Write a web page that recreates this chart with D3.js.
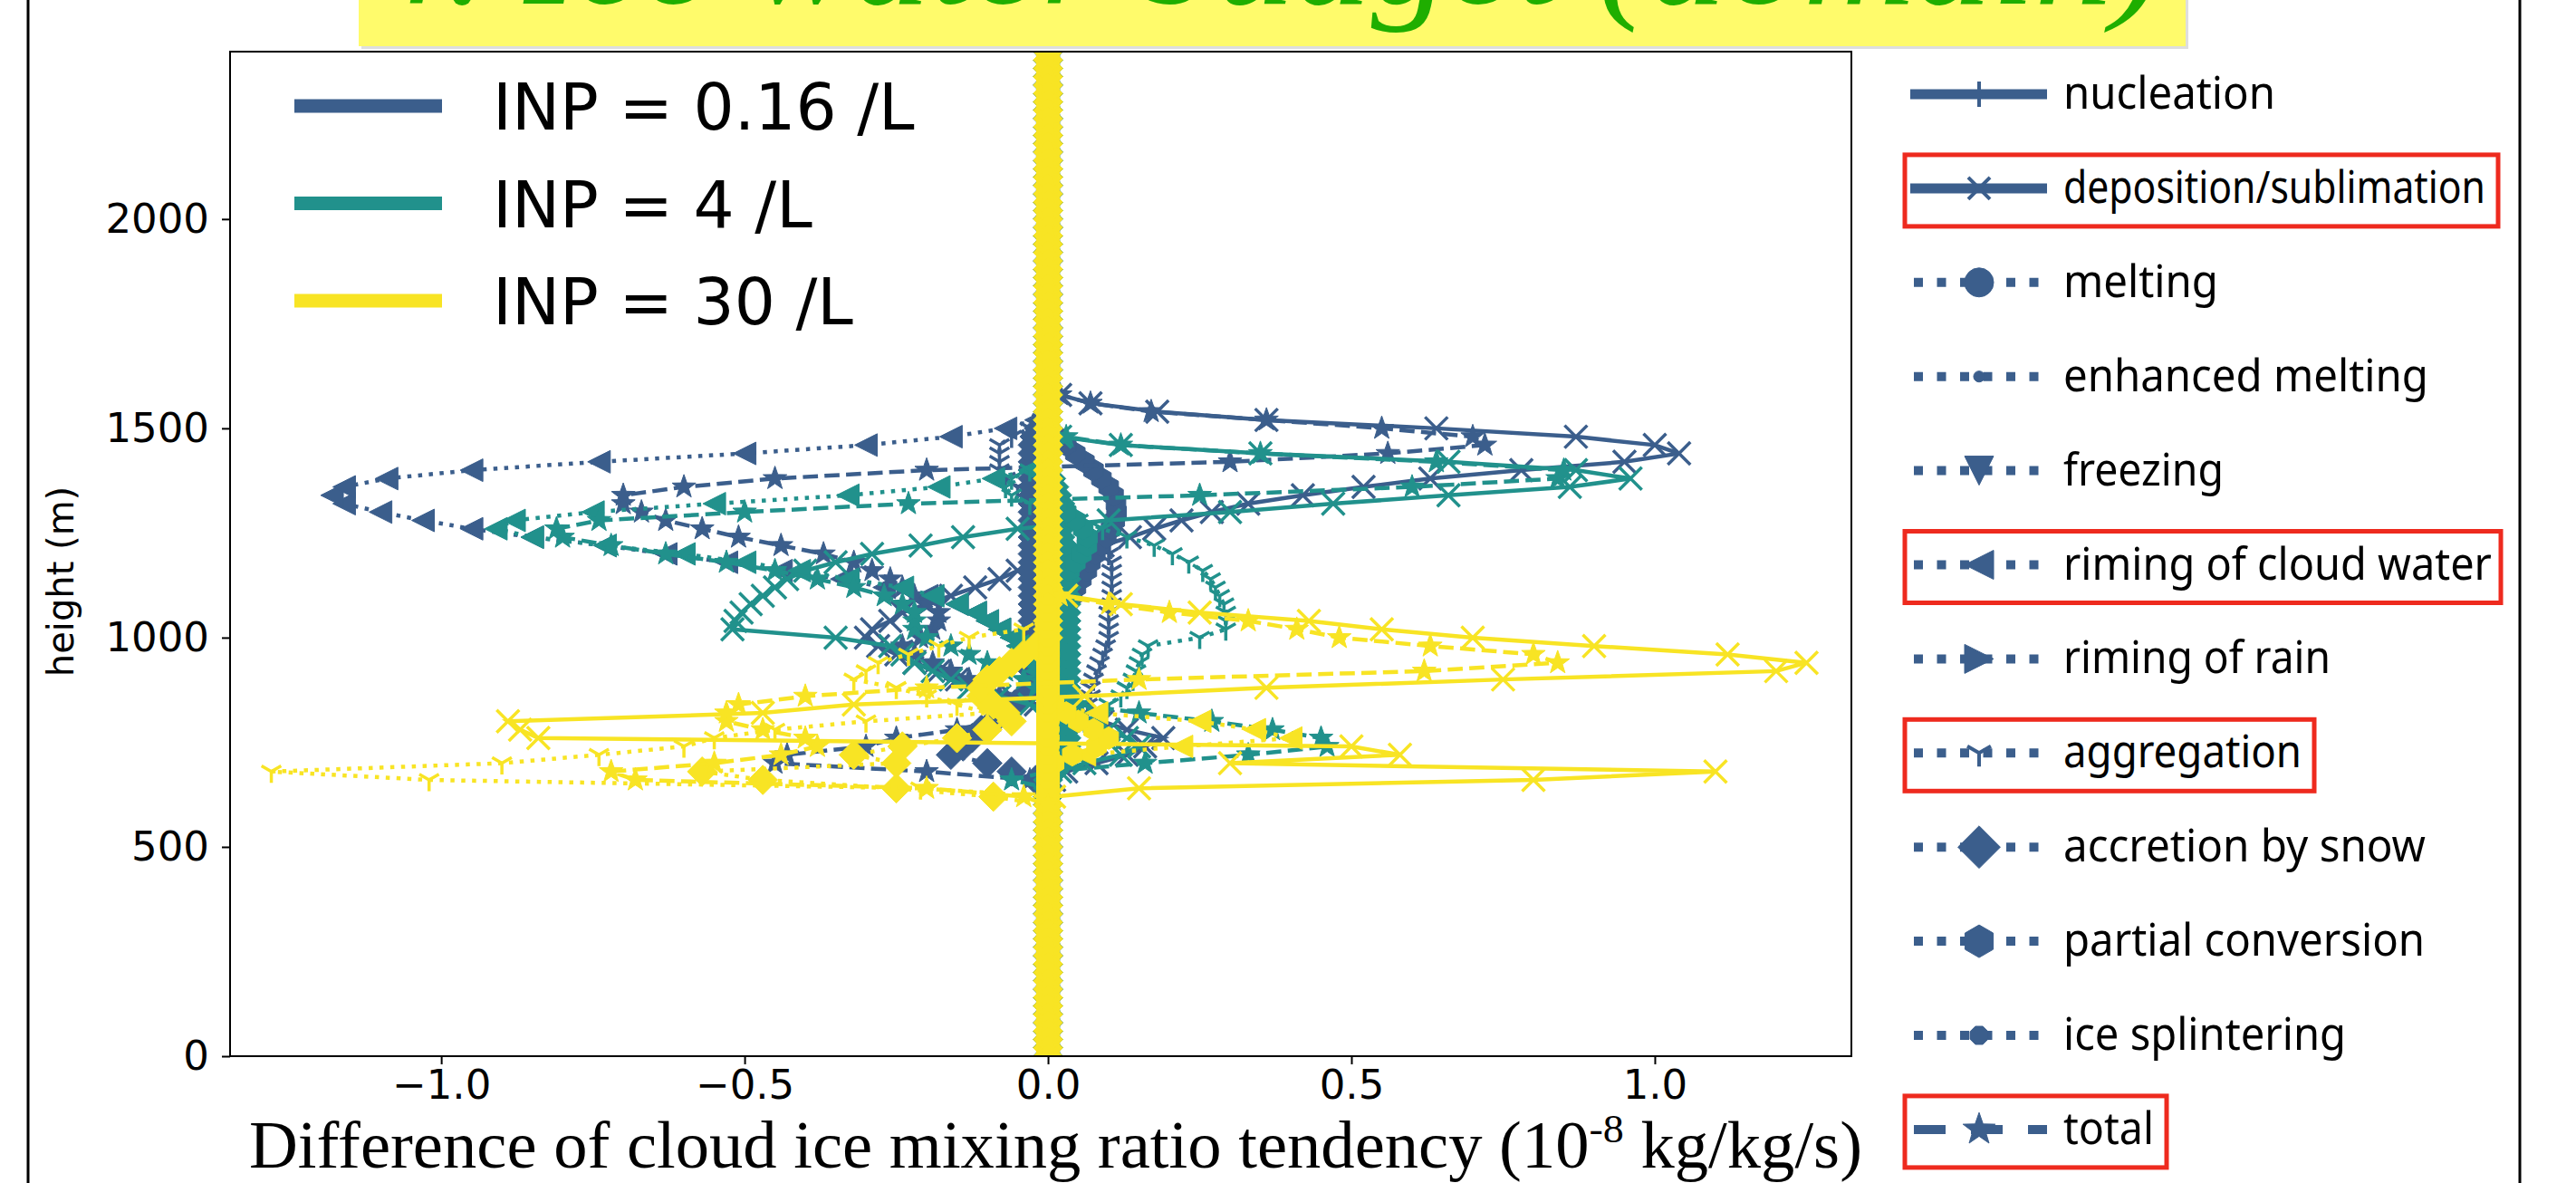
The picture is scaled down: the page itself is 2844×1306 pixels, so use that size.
<!DOCTYPE html>
<html lang="en">
<head>
<meta charset="UTF-8">
<title>Ice water budget (domain)</title>
<style>
  html, body { margin: 0; padding: 0; background: #fff; }
  svg { display: block; }
</style>
</head>
<body>
<div id="chart"></div>
<script src="https://d3js.org/d3.v7.min.js"></script>
<script>
// ---------- data ----------
const inpLabels = ["INP = 0.16 /L", "INP = 4 /L", "INP = 30 /L"];
const processNames = ["nucleation", "deposition/sublimation", "melting", "enhanced melting",
  "freezing", "riming of cloud water", "riming of rain", "aggregation",
  "accretion by snow", "partial conversion", "ice splintering", "total"];
const highlighted = ["deposition/sublimation", "riming of cloud water", "aggregation", "total"];
const xTicks = [-1.0, -0.5, 0.0, 0.5, 1.0];
const yTicks = [0, 500, 1000, 1500, 2000];

// model levels (m)
const levels = [0,20,40,60,80,100,120,140,160,180,
  200,220,240,260,280,300,320,340,360,380,
  400,420,440,460,480,500,520,540,560,580,
  600,620,640,660,680,700,720,740,760,780,
  800,820,840,860,880,900,920,940,960,980,
  1000,1020,1040,1060,1080,1100,1120,1140,1160,1180,
  1200,1220,1240,1260,1280,1300,1320,1340,1360,1380,
  1400,1420,1440,1460,1480,1500,1520,1540,1560,1580,
  1600,1620,1640,1660,1680,1700,1720,1740,1760,1780,
  1800,1820,1840,1860,1880,1900,1920,1940,1960,1980,
  2000,2020,2040,2060,2080,2100,2120,2140,2160,2180,
  2200,2220,2240,2260,2280,2300,2320,2340,2360,2380,
  2400];

// levels where the tendencies are non-zero (top -> bottom); zero elsewhere
const profileLevels = [1600,1580,1560,1540,1520,1500,1480,1460,1440,1420,
  1400,1380,1360,1340,1320,1300,1280,1260,1240,1220,
  1200,1180,1160,1140,1120,1100,1080,1060,1040,1020,
  1000,980,960,940,920,900,880,860,840,820,
  800,780,760,740,720,700,680,660,640,620,
  600];

// INP = 0.16 /L
const dep016 = [0,0.02,0.07,0.18,0.36,0.64,0.87,1.0,1.04,0.95,
  0.78,0.63,0.52,0.42,0.33,0.27,0.22,0.175,0.135,0.09,
  0.04,-0.01,-0.05,-0.08,-0.12,-0.16,-0.2,-0.24,-0.26,-0.29,
  -0.3,-0.28,-0.25,-0.22,-0.18,-0.15,-0.1,-0.06,-0.02,0.03,
  0.09,0.13,0.19,0.16,0.13,0.08,0.03,0.01,0,0,
  0];
const rim016 = [0,0,0,-0.005,-0.02,-0.07,-0.16,-0.3,-0.5,-0.74,
  -0.95,-1.09,-1.16,-1.18,-1.16,-1.1,-1.03,-0.95,-0.85,-0.73,
  -0.63,-0.53,-0.44,-0.34,-0.27,-0.2,-0.15,-0.12,-0.1,-0.08,
  -0.06,-0.05,-0.04,-0.03,-0.02,-0.02,-0.01,-0.01,0,0,
  0,0,0,0,0,0,0,0,0,0,
  0];
const agg016 = [0,0,0,0,-0.01,-0.03,-0.06,-0.08,-0.08,-0.08,
  -0.08,-0.07,-0.05,-0.03,-0.01,0.01,0.03,0.05,0.07,0.09,
  0.1,0.105,0.105,0.105,0.105,0.105,0.105,0.1,0.1,0.1,
  0.1,0.095,0.09,0.085,0.08,0.075,0.07,0.07,0.065,0.06,
  0.05,0.04,0.02,0,0,0,0,0,0,0,
  0];
const acc016 = [0,0,0,0,-0.005,-0.015,-0.022,-0.025,-0.025,-0.025,
  -0.025,-0.025,-0.025,-0.025,-0.025,-0.025,-0.025,-0.025,-0.025,-0.025,
  -0.025,-0.025,-0.025,-0.025,-0.025,-0.025,-0.025,-0.025,-0.025,-0.025,
  -0.025,-0.025,-0.025,-0.025,-0.025,-0.025,-0.028,-0.04,-0.055,-0.07,
  -0.09,-0.11,-0.125,-0.14,-0.16,-0.1,-0.06,-0.02,0,0,
  0];
const conv016 = [0,0,0,0,0,0,0.015,0.03,0.045,0.06,
  0.075,0.088,0.1,0.108,0.112,0.113,0.11,0.104,0.096,0.087,
  0.078,0.07,0.064,0.055,0.046,0.04,0.03,0.02,0.01,0,
  0,0,0,0,0,0,0,0,0,0,
  0,0,0,0,0,0,0,0,0,0,
  0];
const tot016 = [0,0.02,0.07,0.17,0.36,0.55,0.7,0.72,0.56,0.3,
  -0.2,-0.45,-0.6,-0.7,-0.7,-0.67,-0.63,-0.57,-0.51,-0.44,
  -0.37,-0.32,-0.29,-0.26,-0.24,-0.22,-0.2,-0.18,-0.18,-0.19,
  -0.21,-0.24,-0.22,-0.19,-0.16,-0.13,-0.1,-0.08,-0.08,-0.07,
  -0.09,-0.15,-0.25,-0.3,-0.43,-0.45,-0.2,-0.03,0,0,
  0];

// INP = 4 /L
const dep4 = [0,0,0,0,0,0,0.02,0.12,0.35,0.66,
  0.87,0.96,0.86,0.66,0.47,0.3,0.1,-0.05,-0.14,-0.21,
  -0.29,-0.35,-0.4,-0.43,-0.45,-0.47,-0.49,-0.505,-0.515,-0.52,
  -0.35,-0.26,-0.24,-0.22,-0.19,-0.16,-0.13,-0.08,-0.03,0.02,
  0.05,0.1,0.13,0.15,0.12,0.06,0.02,0,0,0,
  0];
const rim4 = [0,0,0,0,0,0,0,0,0,0,
  -0.03,-0.09,-0.18,-0.33,-0.55,-0.75,-0.88,-0.91,-0.85,-0.73,
  -0.6,-0.5,-0.41,-0.33,-0.24,-0.19,-0.15,-0.12,-0.1,-0.08,
  -0.06,-0.05,-0.04,-0.03,-0.02,-0.01,-0.01,0,0,0,
  0,0,0,0,0,0,0,0,0,0,
  0];
const agg4 = [0,0,0,0,0,0,0,0,0,0,
  -0.03,-0.06,-0.07,-0.06,-0.03,0.01,0.05,0.09,0.13,0.175,
  0.205,0.232,0.255,0.268,0.276,0.283,0.29,0.293,0.293,0.293,
  0.25,0.165,0.155,0.15,0.145,0.14,0.13,0.12,0.1,0.08,
  0.06,0.04,0.02,0,0,0,0,0,0,0,
  0];
const acc4 = [0,0,0,0,0,0,0,0,0,0,
  0,0.005,0.01,0.015,0.02,0.02,0.02,0.02,0.02,0.025,
  0.025,0.03,0.03,0.03,0.03,0.03,0.03,0.03,0.03,0.03,
  0.03,0.03,0.03,0.03,0.03,0.03,0.03,0.03,0.03,0.03,
  0.03,0.03,0.03,0.03,0.025,0.02,0.01,0,0,0,
  0];
const conv4 = [0,0,0,0,0,0,0,0,0,0,
  0,0,0,0.005,0.015,0.03,0.045,0.058,0.065,0.064,
  0.055,0.045,0.035,0.025,0.015,0.008,0,0,0,0,
  0,0,0,0,0,0,0,0,0,0,
  0,0,0,0,0,0,0,0,0,0,
  0];
const tot4 = [0,0,0,0,0,0,0.03,0.12,0.35,0.64,
  0.85,0.84,0.6,0.25,-0.23,-0.5,-0.74,-0.81,-0.8,-0.72,
  -0.63,-0.53,-0.45,-0.38,-0.32,-0.27,-0.24,-0.22,-0.22,-0.22,
  -0.2,-0.16,-0.13,-0.1,-0.07,-0.04,-0.02,0,0.05,0.15,
  0.27,0.37,0.45,0.46,0.33,0.16,0,-0.06,0,0,
  0];

// INP = 30 /L
const dep30 = [0,0,0,0,0,0,0,0,0,0,
  0,0,0,0,0,0,0,0,0,0,
  0,0,0,0,0,0.03,0.12,0.25,0.43,0.55,
  0.7,0.9,1.12,1.25,1.2,0.75,0.36,0.06,-0.32,-0.47,
  -0.89,-0.87,-0.84,0.5,0.58,0.3,1.1,0.8,0.15,0.01,
  0];
const rim30 = [0,0,0,0,0,0,0,0,0,0,
  0,0,0,0,0,0,0,0,0,0,
  0,0,0,0,0,0,0,0,0,0,
  0,0,0,0,0,0,0,0,0,0.08,
  0.25,0.34,0.4,0.22,0.06,0,0,0,0,0,
  0];
const agg30 = [0,0,0,0,0,0,0,0,0,0,
  0,0,0,0,0,0,0,0,0,0,
  0,0,0,0,0,0,0,0,0,-0.04,
  -0.13,-0.18,-0.23,-0.28,-0.3,-0.32,-0.25,-0.2,-0.15,-0.1,
  -0.3,-0.45,-0.55,-0.6,-0.74,-0.9,-1.28,-1.02,-0.21,0,
  0];
const acc30 = [0,0,0,0,0,0,0,0,0,0,
  0,0,0,0,0,0,0,0,0,0,
  0,0,0,0,0,0,0,0,0,0,
  0,-0.02,-0.04,-0.06,-0.08,-0.1,-0.11,-0.11,-0.09,-0.07,
  -0.06,-0.1,-0.15,-0.24,-0.32,-0.25,-0.57,-0.47,-0.25,-0.09,
  0];
const conv30 = [0,0,0,0,0,0,0,0,0,0,
  0,0,0,0,0,0,0,0,0,0,
  0,0,0,0,0,0,0,0,0,0,
  0,0,0,0,0,0,0,0,0.01,0.03,
  0.05,0.075,0.1,0.08,0.04,0.01,0,0,0,0,
  0];
const tot30 = [0,0,0,0,0,0,0,0,0,0,
  0,0,0,0,0,0,0,0,0,0,
  0,0,0,0,0,0.02,0.1,0.2,0.33,0.41,
  0.48,0.63,0.8,0.84,0.62,0.15,-0.2,-0.4,-0.51,-0.53,
  -0.53,-0.47,-0.4,-0.38,-0.44,-0.55,-0.72,-0.68,-0.2,-0.04,
  0];

// one row per INP, one slot per process (null = zero at every level)
const profiles = [
  [null, dep016, null, null, null, rim016, null, agg016, acc016, conv016, null, tot016],
  [null, dep4, null, null, null, rim4, null, agg4, acc4, conv4, null, tot4],
  [null, dep30, null, null, null, rim30, null, agg30, acc30, conv30, null, tot30]
];

// ---------- styles ----------
const inpColors = ["#3b5e8c", "#21918c", "#f8e424"];
const markerKinds = ["plus", "x", "circle", "point", "down", "left", "right", "tri",
  "diamond", "hexagon", "octagon", "star"];
const lineStyles = ["solid", "solid", "dotted", "dotted", "dotted", "dotted", "dotted",
  "dotted", "dotted", "dotted", "dotted", "dashed"];
const legendTextWidths = [234, 466, 171, 403, 177, 473, 295, 263, 400, 399, 312, 100];

const W = 2844, H = 1306;
const plot = { left: 254, right: 2044, top: 57, bottom: 1166 };

const svg = d3.select("#chart").append("svg")
  .attr("width", W).attr("height", H)
  .attr("viewBox", [0, 0, W, H]);

svg.append("rect").attr("width", W).attr("height", H).attr("fill", "#fff");

const x = d3.scaleLinear().domain([-1.348, 1.324]).range([plot.left, plot.right]);
const y = d3.scaleLinear().domain([0, 2400]).range([plot.bottom, plot.top]);

function polygon(n, r, rot) {
  const pts = d3.range(n).map(i => {
    const a = (rot + i * 360 / n) * Math.PI / 180;
    return [r * Math.cos(a), r * Math.sin(a)];
  });
  return "M" + pts.map(p => p.join(",")).join("L") + "Z";
}
function starPath(r) {
  const pts = d3.range(10).map(i => {
    const rr = i % 2 ? r * 0.4 : r;
    const a = (-90 + i * 36) * Math.PI / 180;
    return [rr * Math.cos(a), rr * Math.sin(a)];
  });
  return "M" + pts.map(p => p.join(",")).join("L") + "Z";
}
function circlePath(r) {
  return `M${r},0A${r},${r} 0 1,1 ${-r},0A${r},${r} 0 1,1 ${r},0Z`;
}
function markerPath(kind, s) {
  const r = s / 2;
  switch (kind) {
    case "plus": return `M${-r},0H${r}M0,${-r}V${r}`;
    case "x": return `M${-r},${-r}L${r},${r}M${-r},${r}L${r},${-r}`;
    case "circle": return circlePath(r);
    case "point": return circlePath(r * 0.55);
    case "down": return `M0,${r}L${-r},${-r}L${r},${-r}Z`;
    case "left": return `M${-r},0L${r},${-r}L${r},${r}Z`;
    case "right": return `M${r},0L${-r},${-r}L${-r},${r}Z`;
    case "tri": return `M0,0V${r}M0,0L${-r * 0.866},${-r * 0.5}M0,0L${r * 0.866},${-r * 0.5}`;
    case "diamond": return `M0,${-r * 1.3}L${r * 1.3},0L0,${r * 1.3}L${-r * 1.3},0Z`;
    case "hexagon": return polygon(6, r, -90);
    case "octagon": return polygon(8, r * 0.9, 22.5);
    case "star": return starPath(r * 1.1);
  }
}
const strokeOnly = k => k === "plus" || k === "x" || k === "tri";
function dashFor(style, lw) {
  if (style === "dotted") return `${lw},${lw * 1.65}`;
  if (style === "dashed") return `${lw * 3.7},${lw * 1.6}`;
  return null;
}

// ---------- title band ----------
svg.append("rect").attr("x", 399).attr("y", -10).attr("width", 2017).attr("height", 64)
  .attr("fill", "#c8c8c8").attr("opacity", 0.6);
svg.append("rect").attr("x", 396).attr("y", -10).attr("width", 2017).attr("height", 61)
  .attr("fill", "#fffb6b");
svg.append("text")
  .attr("x", 408).attr("y", 4)
  .attr("font-family", "Liberation Serif, serif").attr("font-style", "italic")
  .attr("font-size", 150).attr("fill", "#1fae00")
  .attr("textLength", 1980).attr("lengthAdjust", "spacingAndGlyphs")
  .text("4. Ice water budget (domain)");

// frame lines of the slide
svg.append("line").attr("x1", 31).attr("x2", 31).attr("y1", 0).attr("y2", H)
  .attr("stroke", "#000").attr("stroke-width", 3);
svg.append("line").attr("x1", 2782).attr("x2", 2782).attr("y1", 0).attr("y2", H)
  .attr("stroke", "#000").attr("stroke-width", 3);

// ---------- plot ----------
svg.append("clipPath").attr("id", "clip").append("rect")
  .attr("x", plot.left).attr("y", plot.top)
  .attr("width", plot.right - plot.left).attr("height", plot.bottom - plot.top);

const dataG = svg.append("g").attr("clip-path", "url(#clip)");
const lineGen = d3.line().x(d => x(d.v)).y(d => y(d.h));
const plotLW = 4.5, plotMS = 25;

function valueAt(profile, h) {
  if (!profile) return 0;
  const k = profileLevels.indexOf(h);
  return k < 0 ? 0 : profile[k];
}

profiles.forEach((row, i) => {
  const color = inpColors[i];
  row.forEach((profile, p) => {
    const pts = levels.map(h => ({ h, v: valueAt(profile, h) }));
    const g = dataG.append("g");
    g.append("path").datum(pts)
      .attr("d", lineGen)
      .attr("fill", "none").attr("stroke", color)
      .attr("stroke-width", plotLW)
      .attr("stroke-dasharray", dashFor(lineStyles[p], plotLW));
    const kind = markerKinds[p];
    g.selectAll("path.m").data(pts).join("path")
      .attr("class", "m")
      .attr("transform", d => `translate(${x(d.v)},${y(d.h)})`)
      .attr("d", markerPath(kind, plotMS))
      .attr("fill", strokeOnly(kind) ? "none" : color)
      .attr("stroke", color)
      .attr("stroke-width", strokeOnly(kind) ? 3.5 : 1);
  });
});

// spines
svg.append("rect").attr("x", plot.left).attr("y", plot.top)
  .attr("width", plot.right - plot.left).attr("height", plot.bottom - plot.top)
  .attr("fill", "none").attr("stroke", "#000").attr("stroke-width", 2);

const xAxis = svg.append("g")
  .attr("transform", `translate(0,${plot.bottom})`)
  .call(d3.axisBottom(x).tickValues(xTicks).tickSize(9).tickPadding(6).tickFormat(d3.format(".1f")));
const yAxis = svg.append("g")
  .attr("transform", `translate(${plot.left},0)`)
  .call(d3.axisLeft(y).tickValues(yTicks).tickSize(9).tickPadding(14).tickFormat(d3.format("d")));
[xAxis, yAxis].forEach(a => {
  a.select(".domain").remove();
  a.selectAll(".tick line").attr("stroke", "#000").attr("stroke-width", 2);
  a.selectAll(".tick text").attr("font-family", "DejaVu Sans, sans-serif")
    .attr("font-size", 45).attr("fill", "#000");
});

// axis labels
svg.append("text")
  .attr("transform", "translate(81,642) rotate(-90)")
  .attr("text-anchor", "middle")
  .attr("font-family", "DejaVu Sans, sans-serif").attr("font-size", 40)
  .text("height (m)");

const xl = svg.append("text")
  .attr("x", 275).attr("y", 1289)
  .attr("font-family", "Liberation Serif, serif").attr("font-size", 73)
  .attr("textLength", 1781).attr("lengthAdjust", "spacingAndGlyphs");
xl.append("tspan").text("Difference of cloud ice mixing ratio tendency (10");
xl.append("tspan").attr("dy", -28).attr("font-size", 45).text("-8");
xl.append("tspan").attr("dy", 28).text(" kg/kg/s)");

// ---------- INP legend ----------
const inpLeg = svg.append("g");
inpLabels.forEach((lab, i) => {
  const ly = 117 + i * 107.5;
  inpLeg.append("line").attr("x1", 325).attr("x2", 488).attr("y1", ly).attr("y2", ly)
    .attr("stroke", inpColors[i]).attr("stroke-width", 15);
  inpLeg.append("text").attr("x", 544).attr("y", ly + 26)
    .attr("font-family", "DejaVu Sans, sans-serif").attr("font-size", 71)
    .text(lab);
});

// ---------- process legend ----------
const procLeg = svg.append("g");
const legendColor = inpColors[0];
const legendMS = [28, 24, 32, 22, 32, 32, 32, 30, 36, 36, 24, 34];
processNames.forEach((name, p) => {
  const ly = 104 + p * 103.9;
  const style = lineStyles[p];
  procLeg.append("line")
    .attr("x1", style === "solid" ? 2109 : 2113).attr("x2", 2260)
    .attr("y1", ly).attr("y2", ly)
    .attr("stroke", legendColor).attr("stroke-width", style === "solid" ? 11 : 10)
    .attr("stroke-dasharray", style === "dotted" ? "10,15.5" : style === "dashed" ? "35,28" : null);
  const kind = markerKinds[p];
  procLeg.append("path")
    .attr("transform", `translate(2185,${ly})`)
    .attr("d", markerPath(kind, legendMS[p]))
    .attr("fill", strokeOnly(kind) ? "none" : legendColor)
    .attr("stroke", legendColor)
    .attr("stroke-width", strokeOnly(kind) ? 4 : 1);
  procLeg.append("text")
    .attr("x", 2278).attr("y", ly + 16)
    .attr("font-family", "Noto Sans, sans-serif").attr("font-size", 50)
    .attr("textLength", legendTextWidths[p]).attr("lengthAdjust", "spacingAndGlyphs")
    .text(name);
  if (highlighted.includes(name)) {
    const w = legendTextWidths[p] + 2278 - 2103 + 14;
    procLeg.append("rect")
      .attr("x", 2103).attr("y", ly - 37)
      .attr("width", Math.min(w, 658)).attr("height", 79)
      .attr("fill", "none").attr("stroke", "#ee2a1e").attr("stroke-width", 5);
  }
});
</script>
</body>
</html>
